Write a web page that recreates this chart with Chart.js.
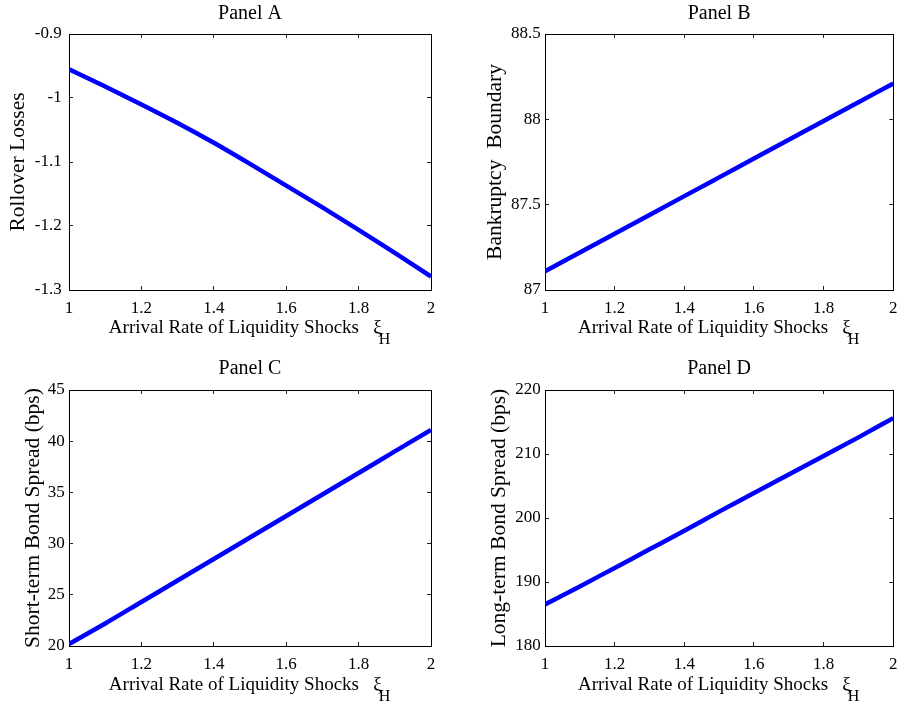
<!DOCTYPE html>
<html>
<head>
<meta charset="utf-8">
<script src="https://cdn.jsdelivr.net/npm/chart.js@4.4.1/dist/chart.umd.min.js"></script>
<style>
  html, body { margin: 0; padding: 0; background: #fff; }
  #wrap { position: relative; width: 910px; height: 707px; }
  #wrap canvas { position: absolute; }
</style>
</head>
<body>
<div id="wrap">
  <canvas id="panelA" width="455" height="350" style="left:0;top:0"></canvas>
  <canvas id="panelB" width="455" height="350" style="left:455px;top:0"></canvas>
  <canvas id="panelC" width="455" height="357" style="left:0;top:350px"></canvas>
  <canvas id="panelD" width="455" height="357" style="left:455px;top:350px"></canvas>
</div>
<script>
// arrival rate of liquidity shocks (x) — shared by all four panels
const xiH = [1.0, 1.1, 1.2, 1.3, 1.4, 1.5, 1.6, 1.7, 1.8, 1.9, 2.0];

// series values
const rolloverLosses     = [-0.955, -0.982, -1.010, -1.039, -1.070, -1.103, -1.137, -1.171, -1.206, -1.242, -1.279];
const bankruptcyBoundary = [87.11, 87.22, 87.33, 87.44, 87.55, 87.66, 87.77, 87.88, 87.99, 88.10, 88.21];
const shortTermSpread    = [20.2, 22.2, 24.3, 26.4, 28.5, 30.6, 32.7, 34.8, 36.9, 39.0, 41.1];
const longTermSpread     = [186.5, 189.3, 192.2, 195.1, 198.0, 201.0, 203.9, 206.8, 209.7, 212.6, 215.6];

// tick values / labels
const xTickValues = [1, 1.2, 1.4, 1.6, 1.8, 2];
const xTickLabels = ['1', '1.2', '1.4', '1.6', '1.8', '2'];
const yTicksA = [-1.3, -1.2, -1.1, -1, -0.9];
const yLabelsA = ['-1.3', '-1.2', '-1.1', '-1', '-0.9'];
const yTicksB = [87, 87.5, 88, 88.5];
const yLabelsB = ['87', '87.5', '88', '88.5'];
const yTicksC = [20, 25, 30, 35, 40, 45];
const yLabelsC = ['20', '25', '30', '35', '40', '45'];
const yTicksD = [180, 190, 200, 210, 220];
const yLabelsD = ['180', '190', '200', '210', '220'];

const X_TITLE = 'Arrival Rate of Liquidity Shocks   \u03BE';
const X_TITLE_PAD = '  '; // room for the subscript H
const SERIF = '"Liberation Serif", "Times New Roman", Times, serif';

Chart.defaults.font.family = SERIF;
Chart.defaults.color = '#000';

const TICK_LEN = -4; // negative => tick marks point into the plot (matlab style)

/// subscript "H" after the xi in the x-axis title
const subscriptH = {
  id: 'subscriptH',
  afterDraw(chart) {
    const s = chart.scales.x;
    const t = s.options.title;
    const ctx = chart.ctx;
    const f = Chart.helpers.toFont(t.font);
    ctx.save();
    ctx.font = f.string;
    const full = ctx.measureText(X_TITLE + X_TITLE_PAD).width;
    const main = ctx.measureText(X_TITLE).width;
    const cx = (s.left + s.right) / 2;
    const x = cx - full / 2 + main - 3;
    const y = s.bottom - t.padding.bottom - f.lineHeight / 2 + 12;
    ctx.font = '16px ' + SERIF;
    ctx.fillStyle = '#000';
    ctx.textAlign = 'left';
    ctx.textBaseline = 'middle';
    ctx.fillText('H', x, y);
    ctx.restore();
  },
};

function fixedTicks(values) {
  return (scale) => { scale.ticks = values.map((v) => ({ value: v })); };
}

function makePanel(id, p) {
  const tickGrid = { drawOnChartArea: false, tickLength: TICK_LEN, color: '#222', lineWidth: 1 };
  const border = { display: true, color: '#000', width: 1 };
  new Chart(document.getElementById(id), {
    type: 'line',
    data: {
      datasets: [{
        data: xiH.map((x, i) => ({ x, y: p.values[i] })),
        borderColor: '#0000ff',
        borderWidth: 4.5,
        pointRadius: 0,
        cubicInterpolationMode: 'monotone',
        fill: false,
      }],
    },
    options: {
      responsive: false,
      animation: false,
      events: [],
      layout: { padding: { left: 0, right: p.padRight, top: 0, bottom: 0 } },
      plugins: {
        legend: { display: false },
        tooltip: { enabled: false },
        title: {
          display: true,
          text: p.title,
          fullSize: false,
          color: '#000',
          font: { size: 20, weight: 'normal' },
          padding: { top: p.titleTop, bottom: p.titleBottom },
        },
      },
      scales: {
        x: {
          type: 'linear', position: 'bottom', min: 1, max: 2,
          afterBuildTicks: fixedTicks(xTickValues),
          afterFit: (s) => { s.height = p.xAxisH; },
          grid: tickGrid, border,
          ticks: { padding: 12.5, font: { size: 17 }, maxRotation: 0,
                   callback: (v, i) => xTickLabels[i] },
          title: { display: true, text: X_TITLE + X_TITLE_PAD, font: { size: 19 },
                   padding: { top: 0, bottom: 10.5 } },
        },
        x2: {
          type: 'linear', position: 'top', min: 1, max: 2,
          afterBuildTicks: fixedTicks(xTickValues),
          afterFit: (s) => { s.height = 0; },
          grid: tickGrid, border, ticks: { display: false },
        },
        y: {
          type: 'linear', position: 'left', min: p.yTicks[0], max: p.yTicks[p.yTicks.length - 1],
          afterBuildTicks: fixedTicks(p.yTicks),
          afterFit: (s) => { s.width = p.yAxisW; },
          grid: tickGrid, border,
          ticks: { padding: p.yTickPad, font: { size: 17 },
                   callback: (v, i) => p.yLabels[i] },
          title: { display: true, text: p.yTitle, font: { size: 21.5 },
                   padding: { top: p.yTitleTop, bottom: 0 } },
        },
        y2: {
          type: 'linear', position: 'right', min: p.yTicks[0], max: p.yTicks[p.yTicks.length - 1],
          afterBuildTicks: fixedTicks(p.yTicks),
          afterFit: (s) => { s.width = 0; },
          grid: tickGrid, border, ticks: { display: false },
        },
      },
    },
    plugins: [subscriptH],
  });
}

makePanel('panelA', {
  title: 'Panel A', yTitle: 'Rollover Losses', values: rolloverLosses,
  yTicks: yTicksA, yLabels: yLabelsA,
  yAxisW: 69, yTickPad: 11.3, yTitleTop: 5.4, padRight: 24,
  titleTop: 1.5, titleBottom: 8.5, xAxisH: 60,
});
makePanel('panelB', {
  title: 'Panel B', yTitle: 'Bankruptcy  Boundary', values: bankruptcyBoundary,
  yTicks: yTicksB, yLabels: yLabelsB,
  yAxisW: 90, yTickPad: 8.3, yTitleTop: 27.1, padRight: 4,
  titleTop: 1.5, titleBottom: 8.5, xAxisH: 60,
});
makePanel('panelC', {
  title: 'Panel C', yTitle: 'Short-term Bond Spread (bps)', values: shortTermSpread,
  yTicks: yTicksC, yLabels: yLabelsC,
  yAxisW: 69, yTickPad: 8.3, yTitleTop: 20.4, padRight: 24,
  titleTop: 6.3, titleBottom: 9.7, xAxisH: 61,
});
makePanel('panelD', {
  title: 'Panel D', yTitle: 'Long-term Bond Spread (bps)', values: longTermSpread,
  yTicks: yTicksD, yLabels: yLabelsD,
  yAxisW: 90, yTickPad: 8.3, yTitleTop: 31.1, padRight: 4,
  titleTop: 6.3, titleBottom: 9.7, xAxisH: 61,
});
</script>
</body>
</html>
